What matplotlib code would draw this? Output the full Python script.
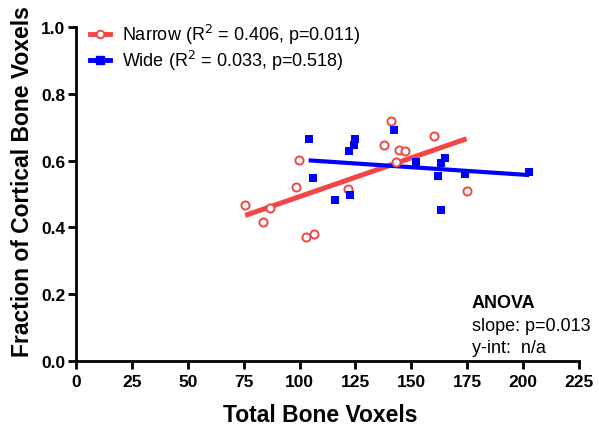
import numpy as np
import matplotlib
matplotlib.use("Agg")
import matplotlib.pyplot as plt
from matplotlib.lines import Line2D

plt.rcParams['font.family'] = ['Liberation Sans', 'DejaVu Sans']

narrow_x = [75.7, 83.5, 86.9, 98.4, 99.9, 102.9, 106.3, 121.5, 137.9, 140.7, 143.2, 144.3, 147.3, 160.2, 174.7]
narrow_y = [0.467, 0.415, 0.457, 0.521, 0.601, 0.371, 0.379, 0.515, 0.648, 0.720, 0.597, 0.631, 0.628, 0.675, 0.508]
wide_x = [104.1, 105.9, 115.8, 122.2, 122.7, 124.3, 124.9, 142.1, 152.1, 162.0, 163.1, 163.1, 165.0, 174.1, 202.7]
wide_y = [0.664, 0.548, 0.482, 0.628, 0.496, 0.647, 0.666, 0.693, 0.595, 0.553, 0.592, 0.451, 0.609, 0.560, 0.567]

narrow_label = "Narrow (R$^{2}$ = 0.406, p=0.011)"
wide_label = "Wide (R$^{2}$ = 0.033, p=0.518)"
x_ticks = [0, 25, 50, 75, 100, 125, 150, 175, 200, 225]
y_ticks = [0.0, 0.2, 0.4, 0.6, 0.8, 1.0]

red = '#F24646'
blue = '#0000FF'

fig = plt.figure(figsize=(5.99, 4.31), dpi=100)
ax = fig.add_axes([76/599, 1 - 362/431, (579-76)/599, (362-28)/431])

# fit lines
for xs, ys, c, lw in [(narrow_x, narrow_y, red, 3.6), (wide_x, wide_y, blue, 3.0)]:
    m, b = np.polyfit(xs, ys, 1)
    xx = np.array([min(xs), max(xs)])
    ax.plot(xx, m * xx + b, color=c, lw=lw, solid_capstyle='butt', zorder=2)

ax.scatter(narrow_x, narrow_y, s=34, facecolors='white', edgecolors=red, linewidths=1.4, zorder=3)
ax.scatter(wide_x, wide_y, s=32, marker='s', color=blue, linewidths=0, zorder=3)

ax.set_xlim(0, 225)
ax.set_ylim(0, 1.0)
ax.set_xticks(x_ticks)
ax.set_yticks(y_ticks)
ax.set_yticklabels([f"{v:.1f}" for v in y_ticks])
for s in ['top', 'right']:
    ax.spines[s].set_visible(False)
for s in ['left', 'bottom']:
    ax.spines[s].set_linewidth(2)
ax.tick_params(direction='out', length=5.5, width=2, labelsize=12.5)
ax.tick_params(axis='y', pad=2)
ax.tick_params(axis='x', pad=4)
for lab in ax.get_xticklabels() + ax.get_yticklabels():
    lab.set_fontweight('bold')

ax.set_xlabel("Total Bone Voxels", fontsize=16.5, fontweight='bold')
ax.set_ylabel("Fraction of Cortical Bone Voxels", fontsize=16.5, fontweight='bold')
ax.xaxis.set_label_coords(0.486, -0.126)
ax.yaxis.set_label_coords(-0.083, 0.54)

handles = [
    Line2D([0], [0], color=red, lw=3.5, marker='o', markersize=5.5, markerfacecolor='white', markeredgecolor=red, markeredgewidth=1.4),
    Line2D([0], [0], color=blue, lw=3.5, marker='s', markersize=5.5, markerfacecolor=blue, markeredgecolor=blue),
]
ax.legend(handles, [narrow_label, wide_label], loc='upper left', bbox_to_anchor=(14/503, 1.015),
          frameon=False, fontsize=13, handlelength=1.1, handletextpad=0.67, labelspacing=0.12,
          borderpad=0, borderaxespad=0)

ax.text(0.787, 0.162, "ANOVA", transform=ax.transAxes, fontsize=13, fontweight='bold', va='baseline')
ax.text(0.787, 0.092, "slope: p=0.013", transform=ax.transAxes, fontsize=13, va='baseline')
ax.text(0.787, 0.027, "y-int:  n/a", transform=ax.transAxes, fontsize=13, va='baseline')

fig.savefig("out.png", dpi=100)
